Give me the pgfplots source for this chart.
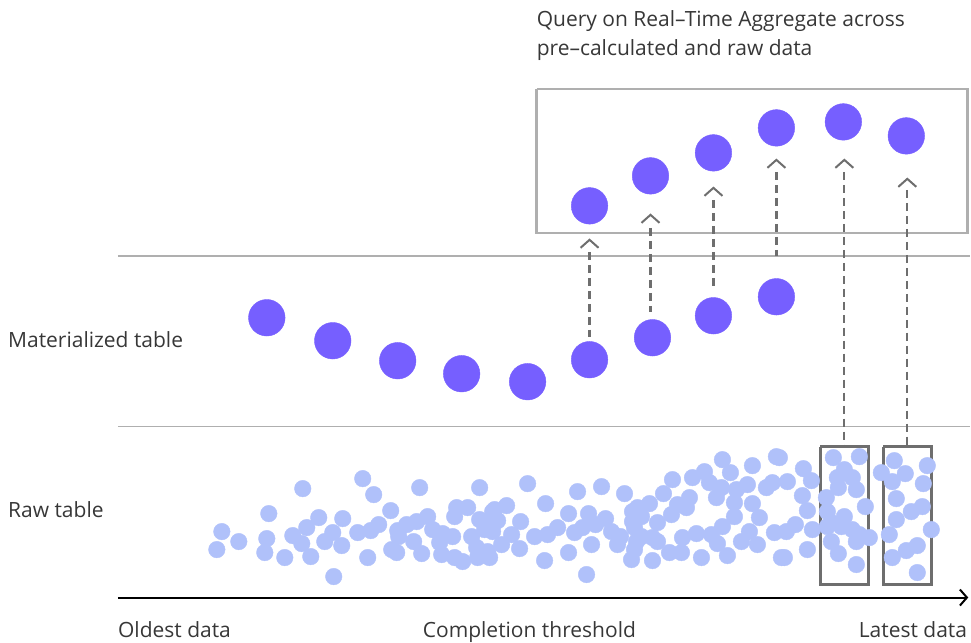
\documentclass[border=0pt]{standalone}
\usepackage{pgfplots}
\pgfplotsset{compat=1.18}
\usepackage{fontspec}
\setmainfont{Open Sans}
\usetikzlibrary{arrows.meta}

\definecolor{aggpurple}{RGB}{118,95,255}
\definecolor{rawblue}{RGB}{176,193,250}
\definecolor{txtgray}{RGB}{55,55,55}
\definecolor{linegray}{RGB}{175,175,175}
\definecolor{dashgray}{RGB}{110,110,110}

\tikzset{lbl/.style={font=\fontsize{21}{25}\selectfont, text=txtgray, inner sep=0pt}}

\begin{document}
\begin{tikzpicture}
\begin{axis}[
    width=971pt, height=641pt,
    scale only axis,
    xmin=0, xmax=971,
    ymin=0, ymax=641,
    y dir=reverse,
    hide axis,
    clip=false,
]
% keep the full canvas in the bounding box
\addplot[draw=none] coordinates {(0,0) (971,641)};

% separators
\addplot[linegray, line width=1.5pt] coordinates {(118,256) (971,256)};
\addplot[linegray, line width=1.5pt] coordinates {(118,427) (971,427)};

% raw table points
\addplot[rawblue, only marks, mark=*, mark size=8.3pt, line width=0.4pt] table {
x y
222 532
217 550
239 542
269 514
267 539
265 553
285 558
303 489
293 536
302 544
307 528
319 518
311 557
325 542
333 533
342 546
343 519
334 577
363 479
374 495
358 533
371 531
379 525
391 511
398 531
399 537
407 525
417 522
428 517
420 488
392 550
397 553
368 558
414 542
422 554
433 530
443 534
453 537
440 543
442 555
455 558
463 562
457 508
468 508
455 517
480 488
480 520
485 530
472 537
477 548
488 552
478 558
493 512
492 522
528 484
578 492
602 487
625 494
546 504
507 506
495 510
498 521
521 522
493 532
512 535
502 545
520 549
490 558
535 537
548 535
558 528
569 514
575 533
583 528
589 514
596 525
606 519
612 532
621 537
618 545
592 545
569 553
545 561
587 575
632 560
633 512
633 522
637 542
723 460
731 473
705 472
693 478
753 466
777 457
673 480
710 483
722 488
737 490
748 485
767 488
773 483
664 494
690 498
717 498
735 503
753 504
650 504
638 508
678 505
687 508
672 515
642 517
735 517
760 518
658 523
723 527
635 528
642 537
653 538
658 542
683 538
697 534
712 535
718 544
750 532
742 542
758 545
775 533
670 553
682 553
635 550
702 558
728 556
653 561
782 558
780 458
804 469
788 482
812 481
803 496
808 511
796 525
787 532
813 530
785 558
808 550
834 458
860 457
845 470
838 478
853 478
839 488
857 490
827 498
866 507
828 512
845 517
832 523
842 527
853 530
860 535
870 538
857 542
832 542
839 554
857 565
828 527
882 473
895 461
928 466
906 474
893 482
924 484
897 499
912 512
923 507
897 520
932 530
890 535
893 558
907 551
918 546
918 573
};

% latest-data windows
\addplot[dashgray, line width=2.5pt] coordinates {(821,447) (869,447) (869,585) (821,585) (821,447)};
\addplot[dashgray, line width=2.5pt] coordinates {(884,447) (932,447) (932,585) (884,585) (884,447)};

% query box
\addplot[linegray, line width=2.5pt] coordinates {(537,89) (968,89) (968,233) (537,233) (537,89)};

% dashed links
\addplot[dashgray, line width=2.2pt, dash pattern=on 8pt off 5pt] coordinates {(590,252) (590,337)};
\addplot[dashgray, line width=2.2pt, dash pattern=on 8pt off 5pt] coordinates {(651,228) (651,312)};
\addplot[dashgray, line width=2.2pt, dash pattern=on 8pt off 5pt] coordinates {(714,200) (714,287)};
\addplot[dashgray, line width=2.2pt, dash pattern=on 8pt off 5pt] coordinates {(777,172) (777,256)};
\addplot[dashgray, line width=2.2pt, dash pattern=on 8pt off 5pt] coordinates {(845,172) (845,447)};
\addplot[dashgray, line width=2.2pt, dash pattern=on 8pt off 5pt] coordinates {(908,190) (908,447)};
% chevrons
\addplot[dashgray, line width=2pt] coordinates {(581,248) (590,240) (599,248)};
\addplot[dashgray, line width=2pt] coordinates {(642,223) (651,215) (660,223)};
\addplot[dashgray, line width=2pt] coordinates {(705,196) (714,188) (723,196)};
\addplot[dashgray, line width=2pt] coordinates {(768,168) (777,160) (786,168)};
\addplot[dashgray, line width=2pt] coordinates {(836,168) (845,160) (854,168)};
\addplot[dashgray, line width=2pt] coordinates {(899,187) (908,179) (917,187)};

% materialized table
\addplot[aggpurple, only marks, mark=*, mark size=18.3pt, line width=0.4pt] coordinates {
(267,318) (333,341) (398,361) (462,374) (528,382) (590,360) (653,338) (714,316) (777,297)
};
% real-time aggregate
\addplot[aggpurple, only marks, mark=*, mark size=18.3pt, line width=0.4pt] coordinates {
(590,206) (651,176) (714,153) (777,128) (844,122) (907,136)
};

% time axis
\addplot[black, line width=2pt, -{Straight Barb[length=7pt, width=16pt, line width=2pt]}] coordinates {(118,598) (969,598)};

% labels
\node[lbl, anchor=base west] at (axis cs:537,27) {Query on Real–Time Aggregate across};
\node[lbl, anchor=base west] at (axis cs:537,56) {pre–calculated and raw data};
\node[lbl, anchor=base west] at (axis cs:8,348) {Materialized table};
\node[lbl, anchor=base west] at (axis cs:8,518) {Raw table};
\node[lbl, anchor=base west] at (axis cs:118,638) {Oldest data};
\node[lbl, anchor=base west] at (axis cs:423,638) {Completion threshold};
\node[lbl, anchor=base east] at (axis cs:968,638) {Latest data};
\end{axis}
\end{tikzpicture}
\end{document}
